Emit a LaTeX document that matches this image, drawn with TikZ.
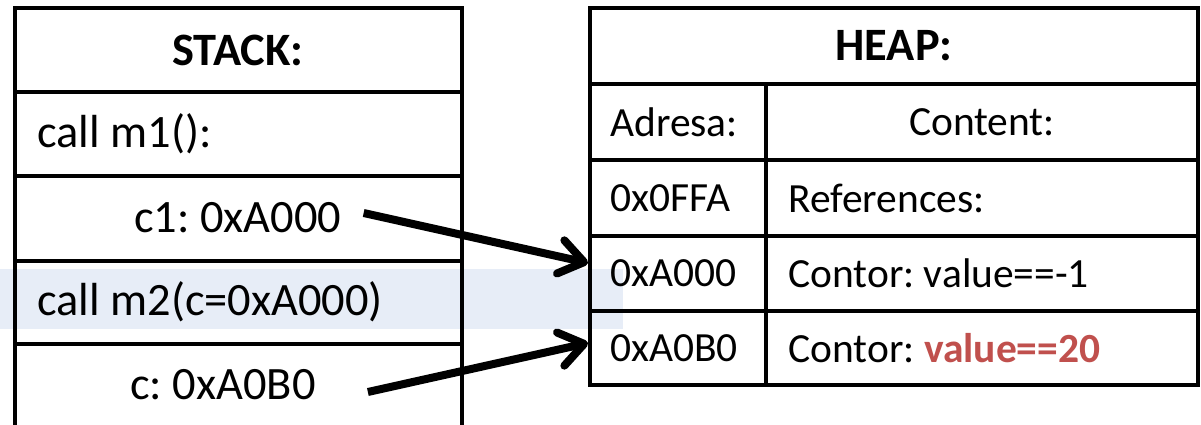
\documentclass[tikz,border=0pt]{standalone}
\usepackage{fontspec}
\setmainfont{Carlito}
\usetikzlibrary{arrows.meta}
\definecolor{bandblue}{HTML}{E7EDF7}
\definecolor{valred}{HTML}{C0504D}
\frenchspacing

\begin{document}
\begin{tikzpicture}[x=0.025cm, y=-0.025cm,
  every node/.style={font=\fontsize{33}{40}\selectfont, inner ysep=0pt},
  title/.style={font=\fontsize{33}{40}\selectfont\bfseries},
  cell/.style={anchor=west, inner xsep=0.55cm},
  heapcell/.style={font=\fontsize{29.5}{36}\selectfont},
  grid/.style={line width=0.1cm},
  ref/.style={line width=0.2cm, -{Straight Barb[length=0.6cm,width=0.85cm,round]}}]

\useasboundingbox (0,0) rectangle (1201,425);

% Highlighted call
\fill[bandblue] (0,269) rectangle (623,329);

% Stack
\draw[grid] (15,425) -- (15,8) -- (462,8) -- (462,425);
\draw[grid] (15,92) -- (462,92);
\draw[grid] (15,176) -- (462,176);
\draw[grid] (15,261) -- (462,261);
\draw[grid] (15,344) -- (462,344);

\node[title] (stack) at (238,50) {STACK:};
\node[cell] (m1) at (15,134) {call m1():};
\node[cell] (c1) at (112,218) {c1: 0xA000};
\node[cell] (m2) at (15,302) {call m2(c=0xA000)};
\node[cell] (c) at (108,385) {c: 0xA0B0};

% Heap
\draw[grid] (590,8) rectangle (1198,385);
\draw[grid] (590,84) -- (1198,84);
\draw[grid] (590,160) -- (1198,160);
\draw[grid] (590,236) -- (1198,236);
\draw[grid] (590,311) -- (1198,311);
\draw[grid] (766,84) -- (766,385);

\node[title] (heap) at (894,46) {HEAP:};
\node[cell,heapcell] (adr) at (588,122) {Adresa:};
\node[heapcell] (cnt) at (982,122) {Content:};
\node[cell,heapcell] (a0ffa) at (588,198) {0x0FFA};
\node[cell,heapcell] (refs) at (766,198) {References:};
\node[cell,heapcell] (a000) at (588,273) {0xA000};
\node[cell,heapcell] (v1) at (766,273) {Contor: value==-1};
\node[cell,heapcell] (a0b0) at (588,348) {0xA0B0};
\node[cell,heapcell] (v2) at (766,348) {Contor: \textcolor{valred}{\textbf{value==20}}};

% References
\draw[ref] ([yshift=0.125cm]c1.east) -- ([yshift=0.25cm]a000.west);
\draw[ref] ([xshift=0.75cm,yshift=-0.175cm]c.east) -- ([yshift=0.125cm]a0b0.west);

\end{tikzpicture}
\end{document}
